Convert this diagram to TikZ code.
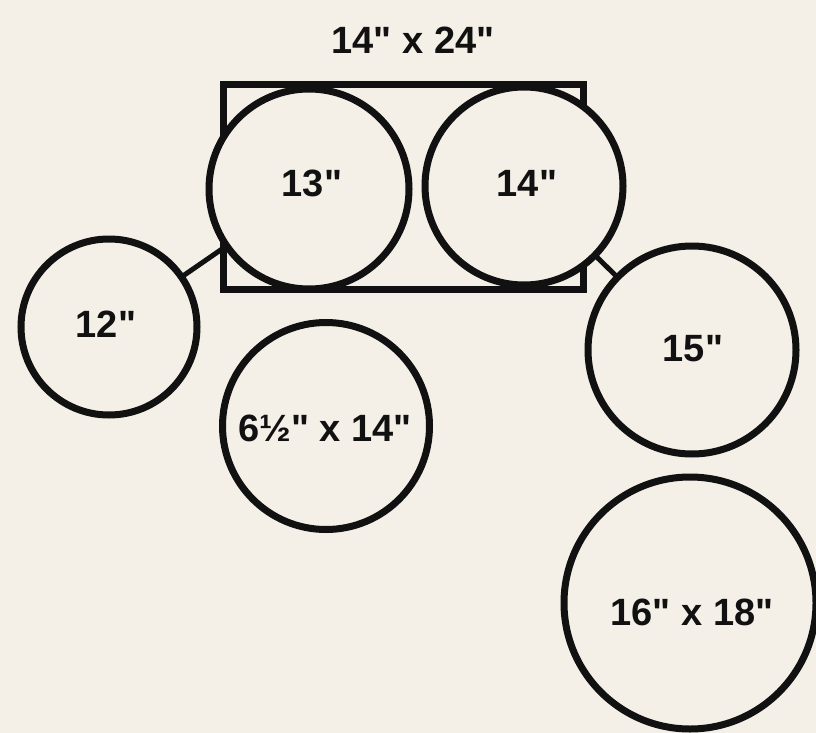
\documentclass[tikz,border=0pt]{standalone}
\usepackage{fontspec}
\newfontfamily\lblfont{Liberation Sans}
\definecolor{paper}{HTML}{F4EFE7}
\definecolor{ink}{HTML}{111111}
\tikzset{
  drum/.style={circle, draw=ink, fill=paper, line width=7pt, inner sep=0pt, minimum size=#1},
  lbl/.style={text=ink, font=\lblfont\bfseries\fontsize{38}{38}\selectfont, inner sep=0pt},
  link/.style={draw=ink, line width=5pt},
  kitbox/.style={rectangle, draw=ink, line width=7pt, inner sep=0pt, minimum width=360pt, minimum height=204pt}
}
\begin{document}
\begin{tikzpicture}[x=1pt,y=-1pt]
\fill[paper] (0,0) rectangle (816,733);
\useasboundingbox (0,0) rectangle (816,733);
% bass drum frame
\node[kitbox] (frame) at (403,187) {};
\node[lbl] (framelbl) at (413,40) {14" x 24"};
% connectors
\coordinate (c12) at (109,327);
\coordinate (c13) at (309,189);
\coordinate (c14) at (524,186);
\coordinate (c15) at (692,350);
\draw[link] (c12) -- (c13);
\draw[link] (c14) -- (c15);
% drums
\node[drum=200pt] (t13) at (c13) {};
\node[drum=198pt] (t14) at (c14) {};
\node[drum=176pt] (t12) at (c12) {};
\node[drum=208pt] (t15) at (c15) {};
\node[drum=207pt] (snare) at (326,426) {};
\node[drum=252pt] (floor) at (690,603) {};
% labels
\node[lbl] at (312,183) {13"};
\node[lbl] at (527,183) {14"};
\node[lbl] at (106,324) {12"};
\node[lbl] at (693,349) {15"};
\node[lbl] at (325,428) {6½" x 14"};
\node[lbl] at (692,612) {16" x 18"};
\end{tikzpicture}
\end{document}
